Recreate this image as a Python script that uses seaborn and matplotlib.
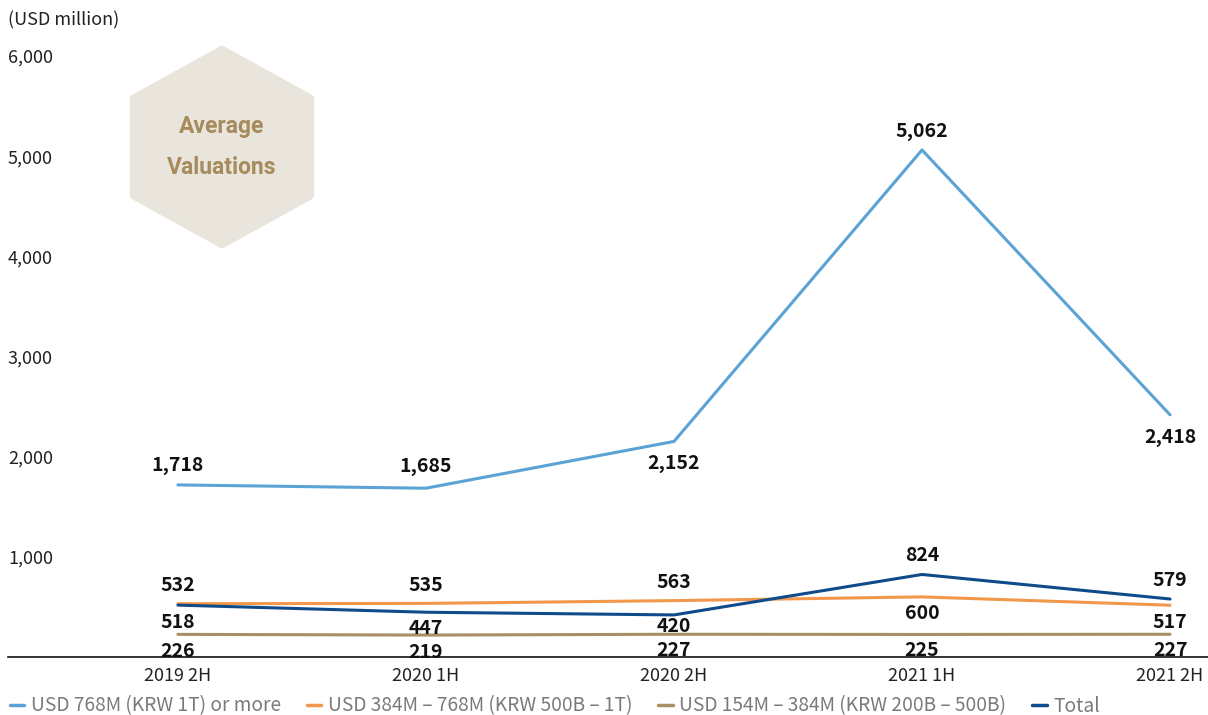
import matplotlib
matplotlib.use("Agg")
import matplotlib.pyplot as plt
from matplotlib.patches import Polygon
import seaborn as sns
import pandas as pd

# ---- data ----
periods = ["2019 2H", "2020 1H", "2020 2H", "2021 1H", "2021 2H"]
series_names = [
    "USD 768M (KRW 1T) or more",
    "USD 384M \u2013 768M (KRW 500B \u2013 1T)",
    "USD 154M \u2013 384M (KRW 200B \u2013 500B)",
    "Total",
]
large_vals = [1718, 1685, 2152, 5062, 2418]
mid_vals = [532, 535, 563, 600, 517]
small_vals = [226, 219, 227, 225, 227]
total_vals = [518, 447, 420, 824, 579]
y_ticks = [1000, 2000, 3000, 4000, 5000, 6000]
y_tick_labels = ["1,000", "2,000", "3,000", "4,000", "5,000", "6,000"]
unit_label = "(USD million)"
badge_lines = ["Average", "Valuations"]

colors = ["#5BA3D5", "#F2984A", "#A88F66", "#0F4A8A"]

# vertical label offsets in pixels (positive = below the point)
label_offsets = [
    [-21, -24, 20, -20, 21],
    [-20, -20, -20, 15, 15],
    [15, 15, 14, 14, 14],
    [15, 14, 10, -21, -21],
]
label_shift = 2  # small downward nudge for the bold label font's metrics

all_vals = [large_vals, mid_vals, small_vals, total_vals]
df = pd.DataFrame({
    "x": [i for _ in series_names for i in range(len(periods))],
    "value": [v for vals in all_vals for v in vals],
    "series": [s for s in series_names for _ in periods],
})

sns.set_theme(style="white")
plt.rcParams["font.family"] = ["Noto Sans CJK KR", "DejaVu Sans"]

W, H = 1208, 715
fig = plt.figure(figsize=(W / 100, H / 100), dpi=100)
ax = fig.add_axes([8 / W, 1 - 657 / H, 1 - 8 / W, (657 - 56) / H])

sns.lineplot(data=df, x="x", y="value", hue="series", hue_order=series_names,
             palette=colors, linewidth=2.2, ax=ax, legend=False)

ax.set_xlim(-0.685, 4.153)
ax.set_ylim(0, 6000)
ax.set_xticks(range(len(periods)))
ax.set_xticklabels(periods)
ax.set_yticks(y_ticks)
ax.set_yticklabels(y_tick_labels)
ax.tick_params(axis="x", length=0, pad=7, labelsize=13, labelcolor="#222222")
ax.tick_params(axis="y", length=0, pad=0, labelsize=13, labelcolor="#222222")
for lbl in ax.get_yticklabels():
    lbl.set_horizontalalignment("left")
ax.set_xlabel("")
ax.set_ylabel("")
for side in ["top", "right", "left"]:
    ax.spines[side].set_visible(False)
ax.spines["bottom"].set_color("#111111")
ax.spines["bottom"].set_linewidth(1.2)
ax.grid(False)

# value labels
for vals, offs in zip(all_vals, label_offsets):
    for i, (v, dy) in enumerate(zip(vals, offs)):
        ax.annotate(f"{v:,}", (i, v), xytext=(0, -(dy + label_shift) * 0.72),
                    textcoords="offset points", ha="center", va="center",
                    fontsize=14, fontweight="bold", color="#111111")

# unit label
fig.text(8 / W, 1 - 20 / H, unit_label, ha="left", va="center",
         fontsize=13, color="#222222")

# hexagon badge (pixel coordinates, pointy top)
cx, cy = 222, H - 147
hw, hh = 88, 97
hex_pts = [(cx, cy + hh), (cx + hw, cy + hh / 2), (cx + hw, cy - hh / 2),
           (cx, cy - hh), (cx - hw, cy - hh / 2), (cx - hw, cy + hh / 2)]
hexagon = Polygon(hex_pts, closed=True, facecolor="#EAE5DC", edgecolor="#EAE5DC",
                  linewidth=6, joinstyle="round", transform=None, zorder=0)
hexagon.set_figure(fig)
fig.patches.append(hexagon)
fig.text(222 / W, 1 - 127 / H, badge_lines[0], ha="center", va="center",
         fontsize=16.5, fontweight="bold", color="#A68B5C", family=["Roboto", "DejaVu Sans"])
fig.text(222 / W, 1 - 167 / H, badge_lines[1], ha="center", va="center",
         fontsize=16.5, fontweight="bold", color="#A68B5C", family=["Roboto", "DejaVu Sans"])

# legend
handles = [plt.Line2D([], [], color=c, linewidth=2.5) for c in colors]
fig.legend(handles, series_names, loc="center left",
           bbox_to_anchor=(6 / W, 1 - 706 / H), borderaxespad=0, borderpad=0.2,
           ncol=4, frameon=False, handlelength=0.75, handletextpad=0.35,
           columnspacing=1.35, fontsize=13.8, labelcolor="#7A7A7A")

fig.savefig("out.png", dpi=100)
